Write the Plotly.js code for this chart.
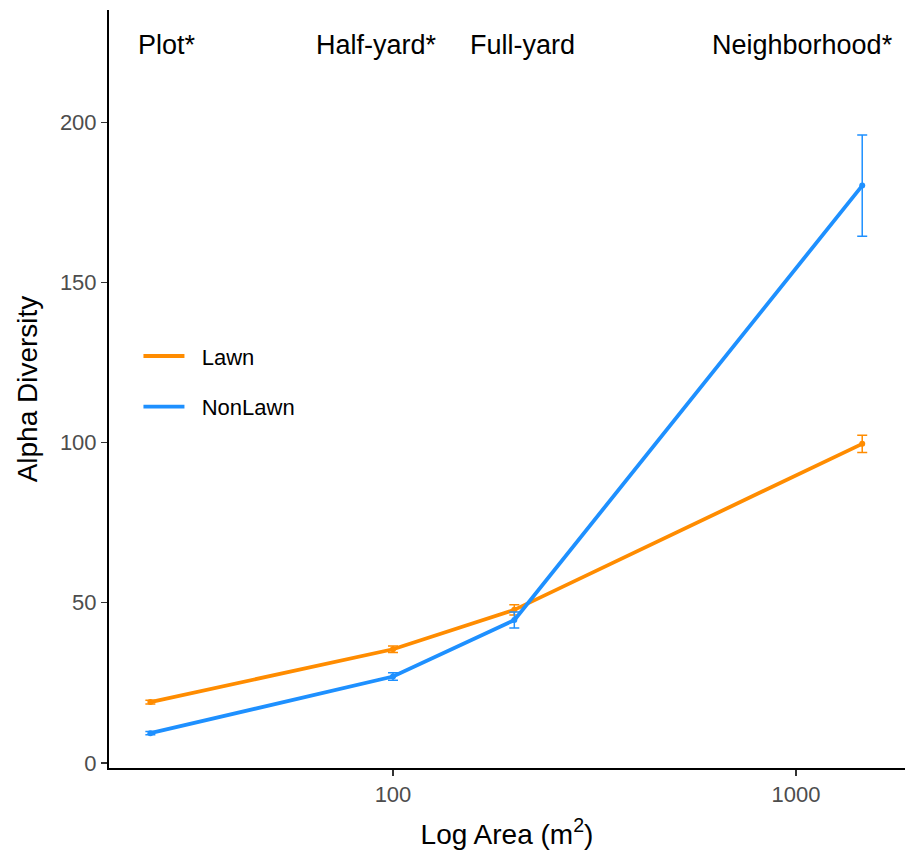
<!DOCTYPE html>
<html>
<head>
<meta charset="utf-8">
<script src="https://cdn.plot.ly/plotly-3.0.1.min.js"></script>
<style>html,body{margin:0;padding:0;background:#fff;}#chart{width:906px;height:856px;}</style>
</head>
<body>
<div id="chart"></div>
<script>
// Data
const areas = [25, 100, 200, 1460];
const lawnMean = [19.0, 35.5, 47.8, 99.6];
const lawnErr = [0.6, 1.0, 1.6, 2.7];
const nonLawnMean = [9.3, 27.0, 44.6, 180.2];
const nonLawnErr = [0.5, 1.2, 2.5, 15.8];
const seriesNames = ["Lawn", "NonLawn"];
const scaleLabels = ["Plot*", "Half-yard*", "Full-yard", "Neighborhood*"];
const labelX = [27.5, 91, 210, 1040];
const labelY = 224;
const xTickVals = [100, 1000];
const xTickText = ["100", "1000"];
const yTickVals = [0, 50, 100, 150, 200];

const FONT = "Liberation Sans, Arial, Helvetica, sans-serif";
const ORANGE = "#FF8C00";
const BLUE = "#1E90FF";

function series(name, y, err, color, group) {
  return {
    type: "scatter", mode: "lines+markers", name: name,
    x: areas, y: y, legendgroup: group, showlegend: false,
    line: {color: color, width: 3.8},
    marker: {color: color, size: 6},
    error_y: {type: "data", array: err, visible: true, color: color, thickness: 1.5, width: 5}
  };
}
function legendEntry(name, color, group) {
  return {
    type: "scatter", mode: "lines", name: "&nbsp;&nbsp;" + name, x: [null], y: [null],
    legendgroup: group, showlegend: true,
    line: {color: color, width: 3.8}
  };
}

const data = [
  series(seriesNames[0], lawnMean, lawnErr, ORANGE, "a"),
  series(seriesNames[1], nonLawnMean, nonLawnErr, BLUE, "b"),
  legendEntry(seriesNames[0], ORANGE, "a"),
  legendEntry(seriesNames[1], BLUE, "b")
];

const annotations = scaleLabels.map((t, i) => ({
  x: Math.log10(labelX[i]), y: labelY, xref: "x", yref: "y",
  text: t, showarrow: false,
  font: {family: FONT, size: 27, color: "#000"},
  xanchor: "center", yanchor: "middle"
}));

const layout = {
  width: 906, height: 856,
  margin: {l: 109, r: 1, t: 10, b: 88},
  paper_bgcolor: "#fff", plot_bgcolor: "#fff",
  font: {family: FONT},
  showlegend: true,
  legend: {
    x: 0.037, y: 0.571, xanchor: "left", yanchor: "top",
    bgcolor: "rgba(0,0,0,0)", traceorder: "grouped", tracegroupgap: 19,
    itemwidth: 41,
    font: {family: FONT, size: 22, color: "#000"}
  },
  xaxis: {
    type: "log", range: [1.2953, 3.2705],
    tickvals: xTickVals, ticktext: xTickText,
    showgrid: false, zeroline: false,
    showline: true, linecolor: "#000", linewidth: 2,
    ticks: "outside", ticklen: 6, tickcolor: "#333", tickwidth: 1.2,
    tickfont: {family: FONT, size: 22, color: "#4d4d4d"},
    title: {text: "Log Area (m<sup>2</sup>)", font: {family: FONT, size: 28, color: "#000"}, standoff: 18}
  },
  yaxis: {
    range: [-1.56, 235],
    tickvals: yTickVals,
    showgrid: false, zeroline: false,
    showline: true, linecolor: "#000", linewidth: 2,
    ticks: "outside", ticklen: 6, tickcolor: "#333", tickwidth: 1.2,
    tickfont: {family: FONT, size: 22, color: "#4d4d4d"},
    title: {text: "Alpha Diversity", font: {family: FONT, size: 28, color: "#000"}, standoff: 14}
  },
  annotations: annotations
};

Plotly.newPlot("chart", data, layout, {displayModeBar: false, staticPlot: true});
</script>
</body>
</html>
